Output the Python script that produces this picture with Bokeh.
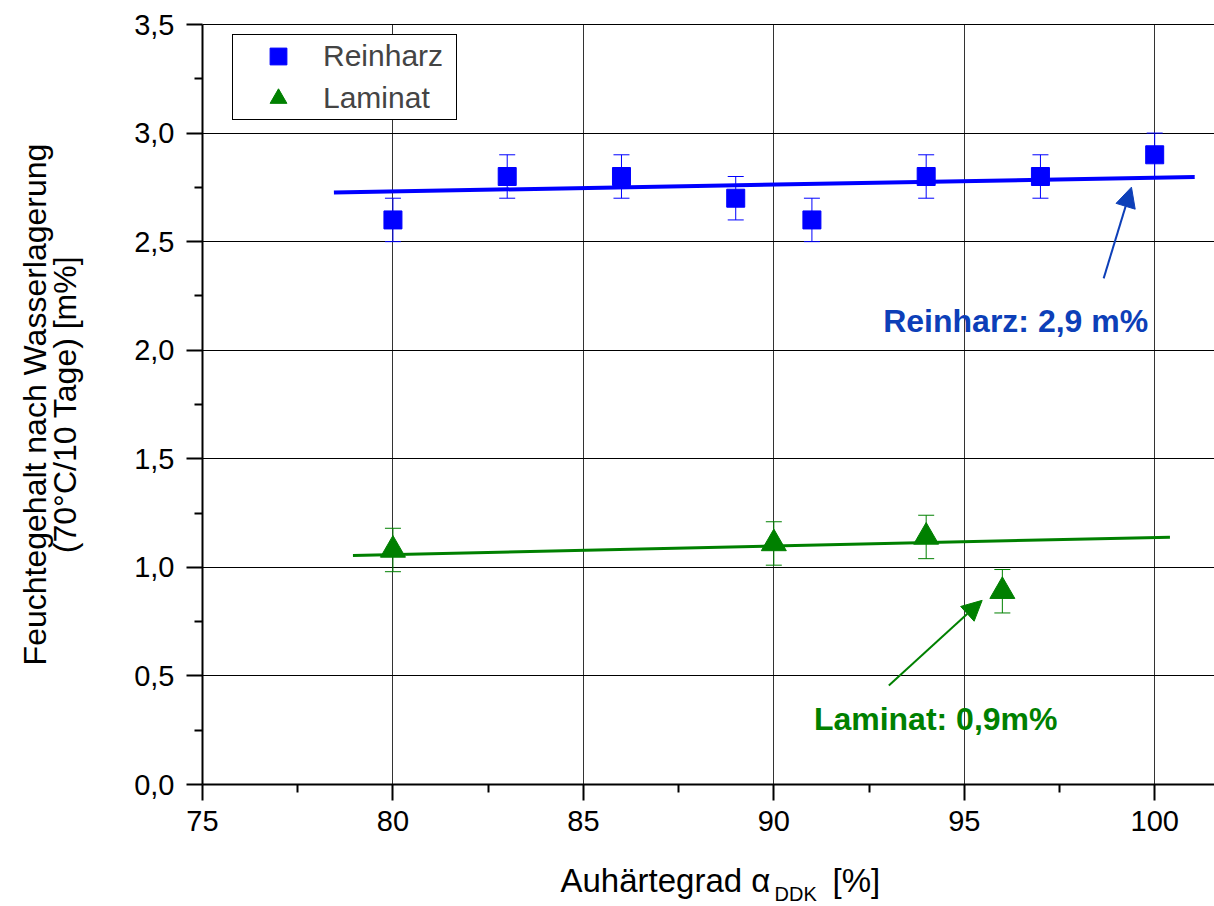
import math
from bokeh.plotting import figure
from bokeh.layouts import column
from bokeh.models import (ColumnDataSource, Whisker, TeeHead, Arrow, NormalHead, Label,
                          Legend, LegendItem, CustomJSTickFormatter, FixedTicker, Range1d,
                          LinearAxis)
from bokeh.embed import file_html
from bokeh.resources import INLINE

# ---- data ----
reinharz_x = [80, 83, 86, 89, 91, 94, 97, 100]
reinharz_y = [2.6, 2.8, 2.8, 2.7, 2.6, 2.8, 2.8, 2.9]
reinharz_err = [0.1, 0.1, 0.1, 0.1, 0.1, 0.1, 0.1, 0.1]

laminat_x = [80, 90, 94, 96]
laminat_y = [1.08, 1.11, 1.14, 0.89]
laminat_err = [0.1, 0.1, 0.1, 0.1]

reinharz_fit_x = [78.45, 101.05]
reinharz_fit_y = [2.726, 2.798]
laminat_fit_x = [78.95, 100.4]
laminat_fit_y = [1.055, 1.139]

x_ticks = [75, 80, 85, 90, 95, 100]
y_ticks = [0.0, 0.5, 1.0, 1.5, 2.0, 2.5, 3.0, 3.5]

BLUE = "#0000FF"
GREEN = "#008000"
ANN_BLUE = "#0D3FB8"
FONT = "Liberation Sans"

p = figure(width=1214, height=856, output_backend="svg", toolbar_location=None,
           x_range=Range1d(75, 101.57), y_range=Range1d(0, 3.5),
           min_border_left=202, min_border_right=0, min_border_top=24, min_border_bottom=72)
p.background_fill_color = "white"
p.border_fill_color = "white"
p.outline_line_color = None

# axes
for ax in (p.xaxis[0], p.yaxis[0]):
    ax.axis_line_width = 2
    ax.axis_line_color = "black"
    ax.major_tick_line_width = 2
    ax.minor_tick_line_width = 2
    ax.major_tick_line_color = "black"
    ax.minor_tick_line_color = "black"
    ax.major_tick_in = 0
    ax.major_tick_out = 16
    ax.minor_tick_in = 0
    ax.minor_tick_out = 8
    ax.major_label_text_font = FONT
    ax.major_label_text_font_size = "29px"
    ax.major_label_text_color = "black"

p.xaxis.ticker = FixedTicker(ticks=x_ticks, minor_ticks=[77.5, 82.5, 87.5, 92.5, 97.5])
p.yaxis.ticker = FixedTicker(ticks=y_ticks, minor_ticks=[0.25, 0.75, 1.25, 1.75, 2.25, 2.75, 3.25])
p.yaxis.formatter = CustomJSTickFormatter(code="return tick.toFixed(1).replace('.', ',');")
p.xaxis.major_label_standoff = 10
p.yaxis.major_label_standoff = 12

p.yaxis.axis_label = "Feuchtegehalt nach Wasserlagerung\n(70°C/10 Tage) [m%]"
p.yaxis.axis_label_text_font = FONT
p.yaxis.axis_label_text_font_size = "32px"
p.yaxis.axis_label_text_font_style = "normal"
p.yaxis.axis_label_text_color = "black"
p.yaxis.axis_label_text_line_height = 0.85
p.yaxis.axis_label_standoff = 48

# top frame line
top_ax = LinearAxis(ticker=FixedTicker(ticks=[]), axis_line_width=1, axis_line_color="black",
                    major_tick_line_color=None, minor_tick_line_color=None,
                    major_tick_out=0, minor_tick_out=0, major_label_standoff=0)
p.add_layout(top_ax, "above")

p.xgrid.grid_line_color = "#333333"
p.xgrid.grid_line_width = 1
p.ygrid.grid_line_color = "black"
p.ygrid.grid_line_width = 1

# fit lines
p.line(reinharz_fit_x, reinharz_fit_y, line_color=BLUE, line_width=4)
p.line(laminat_fit_x, laminat_fit_y, line_color=GREEN, line_width=3)

# error bars
src_r = ColumnDataSource(dict(x=reinharz_x, y=reinharz_y,
                              lo=[v - e for v, e in zip(reinharz_y, reinharz_err)],
                              hi=[v + e for v, e in zip(reinharz_y, reinharz_err)]))
src_l = ColumnDataSource(dict(x=laminat_x, y=laminat_y,
                              lo=[v - e for v, e in zip(laminat_y, laminat_err)],
                              hi=[v + e for v, e in zip(laminat_y, laminat_err)]))
for src, col in ((src_r, BLUE), (src_l, GREEN)):
    w = Whisker(source=src, base="x", lower="lo", upper="hi", line_color=col, line_width=1,
                upper_head=TeeHead(size=16, line_color=col, line_width=1),
                lower_head=TeeHead(size=16, line_color=col, line_width=1))
    w.level = "underlay"
    p.add_layout(w)

r_sc = p.scatter("x", "y", source=src_r, marker="square", size=18, fill_color=BLUE, line_color=BLUE)
l_sc = p.scatter("x", "y", source=src_l, marker="triangle", size=25, fill_color=GREEN, line_color=GREEN)

# legend
legend = Legend(items=[LegendItem(label="Reinharz", renderers=[r_sc]),
                       LegendItem(label="Laminat", renderers=[l_sc])],
                location=(30, 664), margin=0, padding=0, spacing=0,
                glyph_width=90, glyph_height=42, label_height=42, label_width=133,
                label_standoff=0,
                label_text_font=FONT, label_text_font_size="30px",
                border_line_color="black", border_line_width=1, border_line_alpha=1,
                background_fill_color="white", background_fill_alpha=1)
p.add_layout(legend)

# annotations
p.add_layout(Arrow(end=NormalHead(size=20, fill_color=ANN_BLUE, line_color=ANN_BLUE),
                   x_start=98.66, y_start=2.331, x_end=99.39, y_end=2.751,
                   line_color=ANN_BLUE, line_width=2))
p.add_layout(Arrow(end=NormalHead(size=20, fill_color=GREEN, line_color=GREEN),
                   x_start=93.02, y_start=0.456, x_end=95.47, y_end=0.848,
                   line_color=GREEN, line_width=2))
p.add_layout(Label(x=96.35, y=2.135, text="Reinharz: 2,9 m%", text_align="center",
                   text_baseline="middle", text_font=FONT, text_font_style="bold",
                   text_font_size="32px", text_color=ANN_BLUE))
p.add_layout(Label(x=94.25, y=0.30, text="Laminat: 0,9m%", text_align="center",
                   text_baseline="middle", text_font=FONT, text_font_style="bold",
                   text_font_size="32px", text_color=GREEN))

# ---- x-axis title strip (its frame is aligned with the main frame: 202..1214 px) ----
p2 = figure(width=1214, height=50, output_backend="svg", toolbar_location=None,
            x_range=Range1d(202, 1214), y_range=Range1d(50, 0),
            x_axis_type=None, y_axis_type=None,
            min_border_left=0, min_border_right=0, min_border_top=0, min_border_bottom=0)
p2.outline_line_color = None
p2.grid.visible = False
p2.background_fill_color = "white"
p2.border_fill_color = "white"

def xlab(x, y, text, size):
    p2.add_layout(Label(x=x, y=y, text=text, text_align="left", text_baseline="middle",
                        text_font=FONT, text_font_size=size, text_color="black"))

xlab(560, 24, "Auhärtegrad α", "33px")
xlab(774, 37, "DDK", "20px")
xlab(832, 24, "[%]", "33px")

open("out.html", "w").write(file_html(column(p, p2, spacing=0), INLINE))
